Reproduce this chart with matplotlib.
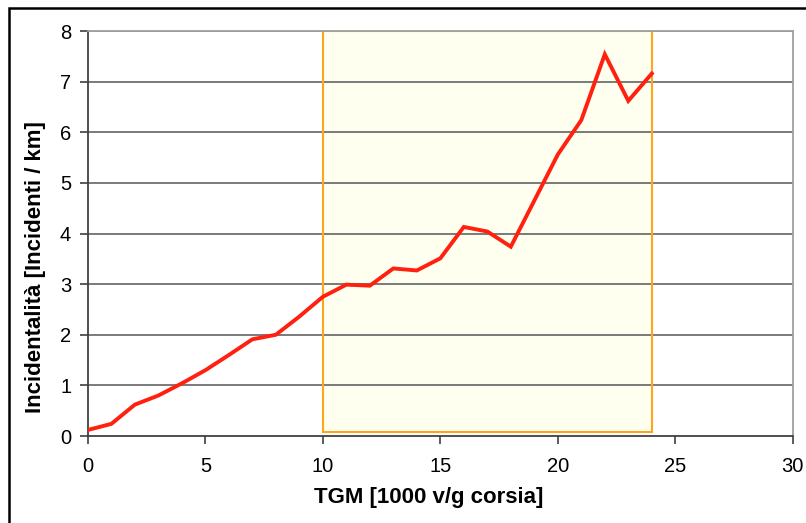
import matplotlib.pyplot as plt
from matplotlib.patches import Rectangle

plt.rcParams['font.family'] = ['Liberation Sans', 'DejaVu Sans']

# TGM [1000 v/g corsia] vs incidentalita
tgm = [0, 1, 2, 3, 4, 5, 6, 7, 8, 9, 10, 11, 12, 13, 14, 15, 16, 17, 18,
       19, 20, 21, 22, 23, 24]
incid = [0.12, 0.24, 0.62, 0.80, 1.04, 1.30, 1.60, 1.91, 2.00, 2.36, 2.75,
         2.99, 2.97, 3.31, 3.27, 3.51, 4.13, 4.04, 3.74, 4.65, 5.56, 6.24,
         7.54, 6.62, 7.16]

# highlighted range
band_x = [10, 24]
band_y = [0.07, 8]

x_ticks = [0, 5, 10, 15, 20, 25, 30]
y_ticks = [0, 1, 2, 3, 4, 5, 6, 7, 8]

fig = plt.figure(figsize=(8.06, 5.23), dpi=100)
ax = fig.add_axes([0.109, 0.1663, 0.8746, 0.7744])

for y in y_ticks[1:]:
    ax.axhline(y, color='#707070', linewidth=1.3, zorder=1)

ax.add_patch(Rectangle((band_x[0], band_y[0]), band_x[1] - band_x[0],
                       band_y[1] - band_y[0], facecolor='#fffff0',
                       edgecolor='none', zorder=0.5))
ax.add_patch(Rectangle((band_x[0], band_y[0]), band_x[1] - band_x[0],
                       band_y[1] - band_y[0], facecolor='none',
                       edgecolor='#ffa41c', linewidth=1.5, zorder=2))

ax.plot(tgm, incid, color='#ff2010', linewidth=2.8, zorder=3,
        solid_joinstyle='miter')

ax.set_xlim(0, 30)
ax.set_ylim(0, 8)
ax.set_xticks(x_ticks)
ax.set_yticks(y_ticks)
ax.tick_params(direction='out', length=6, width=1.2, color='#404040',
               labelsize=14.5)
ax.tick_params(axis='x', pad=9)
ax.tick_params(axis='y', pad=6)

for s in ['left', 'bottom']:
    ax.spines[s].set_color('#404040')
    ax.spines[s].set_linewidth(1.3)
for s in ['top', 'right']:
    ax.spines[s].set_color('#a0a0a0')
    ax.spines[s].set_linewidth(1.3)

ax.set_xlabel('TGM [1000 v/g corsia]', fontsize=16, fontweight='bold',
              va='center', ha='center')
ax.set_ylabel('Incidentalità [Incidenti / km]', fontsize=16,
              fontweight='bold', va='center', ha='center')
ax.xaxis.set_label_coords(0.484, -0.151)
ax.yaxis.set_label_coords(-0.0747, 0.417)

# outer chart border
fig.patches.append(Rectangle((9 / 806, -0.1), 1.2, 1 - 8 / 523 + 0.1,
                             transform=fig.transFigure, fill=False,
                             edgecolor='black', linewidth=1.8))

plt.savefig('out.png', dpi=100)
